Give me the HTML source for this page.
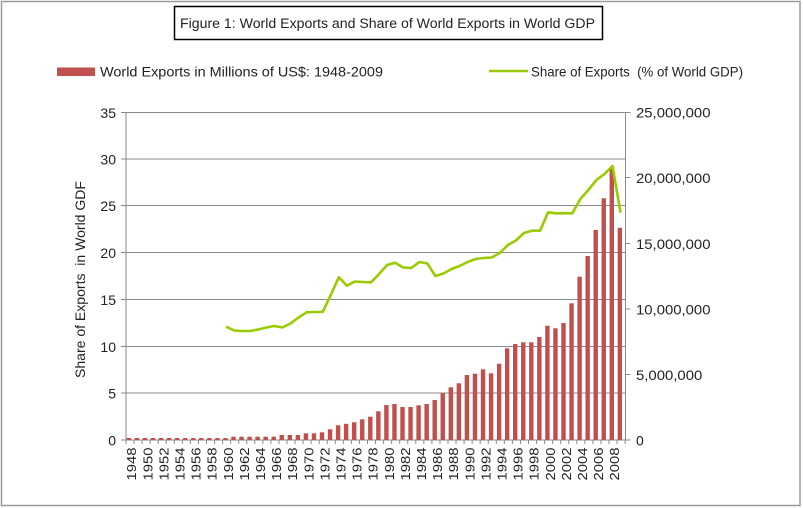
<!DOCTYPE html>
<html><head><meta charset="utf-8"><style>
html,body{margin:0;padding:0;background:#fff;}
svg{display:block;}
text{font-family:"Liberation Sans",Arial,sans-serif;fill:#222;}
</style></head><body>
<svg width="803" height="508" viewBox="0 0 803 508" xmlns="http://www.w3.org/2000/svg">
<rect x="0" y="0" width="803" height="508" fill="#fff"/>
<rect x="1.5" y="1.5" width="798.5" height="504" fill="none" stroke="#9a9a9a" stroke-width="1.5"/>
<!-- title -->
<rect x="174.5" y="6.5" width="428" height="33" fill="#fff" stroke="#000" stroke-width="1.5"/>
<text x="180" y="28" font-size="13.5" textLength="415" lengthAdjust="spacingAndGlyphs">Figure 1: World Exports and Share of World Exports in World GDP</text>
<!-- legend -->
<rect x="57" y="67.5" width="38" height="8.5" fill="#C0504D"/>
<text x="100" y="76.5" font-size="14" textLength="283" lengthAdjust="spacingAndGlyphs">World Exports in Millions of US$: 1948-2009</text>
<line x1="489" y1="71" x2="528" y2="71" stroke="#99CC00" stroke-width="2.5"/>
<text x="531" y="76.5" font-size="14" textLength="212" lengthAdjust="spacingAndGlyphs" xml:space="preserve">Share of Exports  (% of World GDP)</text>
<!-- gridlines -->
<g stroke="#8a8a8a" stroke-width="1">
<line x1="121" y1="112.5" x2="625.5" y2="112.5"/>
<line x1="121" y1="159" x2="625.5" y2="159"/>
<line x1="121" y1="205.5" x2="625.5" y2="205.5"/>
<line x1="121" y1="252.5" x2="625.5" y2="252.5"/>
<line x1="121" y1="299.5" x2="625.5" y2="299.5"/>
<line x1="121" y1="346.5" x2="625.5" y2="346.5"/>
<line x1="121" y1="393" x2="625.5" y2="393"/>
<line x1="121" y1="440" x2="625.5" y2="440"/>
<line x1="126" y1="112" x2="126" y2="440"/>
<line x1="625.5" y1="112" x2="625.5" y2="440"/>
<line x1="625.5" y1="112.5" x2="630.5" y2="112.5"/>
<line x1="625.5" y1="177.5" x2="630.5" y2="177.5"/>
<line x1="625.5" y1="243.5" x2="630.5" y2="243.5"/>
<line x1="625.5" y1="309" x2="630.5" y2="309"/>
<line x1="625.5" y1="374.5" x2="630.5" y2="374.5"/>
<line x1="625.5" y1="440" x2="630.5" y2="440"/>
</g>
<!-- x ticks -->
<g stroke="#8a8a8a" stroke-width="1">
<line x1="126" y1="440" x2="126" y2="444"/><line x1="134.05" y1="440" x2="134.05" y2="444"/><line x1="142.1" y1="440" x2="142.1" y2="444"/><line x1="150.15" y1="440" x2="150.15" y2="444"/><line x1="158.2" y1="440" x2="158.2" y2="444"/><line x1="166.25" y1="440" x2="166.25" y2="444"/><line x1="174.3" y1="440" x2="174.3" y2="444"/><line x1="182.35" y1="440" x2="182.35" y2="444"/><line x1="190.4" y1="440" x2="190.4" y2="444"/><line x1="198.45" y1="440" x2="198.45" y2="444"/><line x1="206.5" y1="440" x2="206.5" y2="444"/><line x1="214.55" y1="440" x2="214.55" y2="444"/><line x1="222.6" y1="440" x2="222.6" y2="444"/><line x1="230.65" y1="440" x2="230.65" y2="444"/><line x1="238.7" y1="440" x2="238.7" y2="444"/><line x1="246.75" y1="440" x2="246.75" y2="444"/><line x1="254.8" y1="440" x2="254.8" y2="444"/><line x1="262.85" y1="440" x2="262.85" y2="444"/><line x1="270.9" y1="440" x2="270.9" y2="444"/><line x1="278.95" y1="440" x2="278.95" y2="444"/><line x1="287" y1="440" x2="287" y2="444"/><line x1="295.05" y1="440" x2="295.05" y2="444"/><line x1="303.1" y1="440" x2="303.1" y2="444"/><line x1="311.15" y1="440" x2="311.15" y2="444"/><line x1="319.2" y1="440" x2="319.2" y2="444"/><line x1="327.25" y1="440" x2="327.25" y2="444"/><line x1="335.3" y1="440" x2="335.3" y2="444"/><line x1="343.35" y1="440" x2="343.35" y2="444"/><line x1="351.4" y1="440" x2="351.4" y2="444"/><line x1="359.45" y1="440" x2="359.45" y2="444"/><line x1="367.5" y1="440" x2="367.5" y2="444"/><line x1="375.55" y1="440" x2="375.55" y2="444"/><line x1="383.6" y1="440" x2="383.6" y2="444"/><line x1="391.65" y1="440" x2="391.65" y2="444"/><line x1="399.7" y1="440" x2="399.7" y2="444"/><line x1="407.75" y1="440" x2="407.75" y2="444"/><line x1="415.8" y1="440" x2="415.8" y2="444"/><line x1="423.85" y1="440" x2="423.85" y2="444"/><line x1="431.9" y1="440" x2="431.9" y2="444"/><line x1="439.95" y1="440" x2="439.95" y2="444"/><line x1="448" y1="440" x2="448" y2="444"/><line x1="456.05" y1="440" x2="456.05" y2="444"/><line x1="464.1" y1="440" x2="464.1" y2="444"/><line x1="472.15" y1="440" x2="472.15" y2="444"/><line x1="480.2" y1="440" x2="480.2" y2="444"/><line x1="488.25" y1="440" x2="488.25" y2="444"/><line x1="496.3" y1="440" x2="496.3" y2="444"/><line x1="504.35" y1="440" x2="504.35" y2="444"/><line x1="512.4" y1="440" x2="512.4" y2="444"/><line x1="520.45" y1="440" x2="520.45" y2="444"/><line x1="528.5" y1="440" x2="528.5" y2="444"/><line x1="536.55" y1="440" x2="536.55" y2="444"/><line x1="544.6" y1="440" x2="544.6" y2="444"/><line x1="552.65" y1="440" x2="552.65" y2="444"/><line x1="560.7" y1="440" x2="560.7" y2="444"/><line x1="568.75" y1="440" x2="568.75" y2="444"/><line x1="576.8" y1="440" x2="576.8" y2="444"/><line x1="584.85" y1="440" x2="584.85" y2="444"/><line x1="592.9" y1="440" x2="592.9" y2="444"/><line x1="600.95" y1="440" x2="600.95" y2="444"/><line x1="609" y1="440" x2="609" y2="444"/><line x1="617.05" y1="440" x2="617.05" y2="444"/><line x1="625.1" y1="440" x2="625.1" y2="444"/>
</g>
<!-- bars -->
<g fill="#C0504D">
<rect x="126.6" y="438" width="4.4" height="2"/>
<rect x="134.65" y="438" width="4.4" height="2"/>
<rect x="142.7" y="438" width="4.4" height="2"/>
<rect x="150.75" y="438" width="4.4" height="2"/>
<rect x="158.8" y="438" width="4.4" height="2"/>
<rect x="166.85" y="438" width="4.4" height="2"/>
<rect x="174.9" y="438" width="4.4" height="2"/>
<rect x="182.95" y="438" width="4.4" height="2"/>
<rect x="191" y="438" width="4.4" height="2"/>
<rect x="199.05" y="438" width="4.4" height="2"/>
<rect x="207.1" y="438" width="4.4" height="2"/>
<rect x="215.15" y="438" width="4.4" height="2"/>
<rect x="223.2" y="438" width="4.4" height="2"/>
<rect x="231.25" y="436.7" width="4.4" height="3.3"/>
<rect x="239.3" y="436.7" width="4.4" height="3.3"/>
<rect x="247.35" y="436.7" width="4.4" height="3.3"/>
<rect x="255.4" y="436.7" width="4.4" height="3.3"/>
<rect x="263.45" y="436.7" width="4.4" height="3.3"/>
<rect x="271.5" y="436.7" width="4.4" height="3.3"/>
<rect x="279.55" y="435" width="4.4" height="5"/>
<rect x="287.6" y="435" width="4.4" height="5"/>
<rect x="295.65" y="435" width="4.4" height="5"/>
<rect x="303.7" y="433.3" width="4.4" height="6.7"/>
<rect x="311.75" y="433.3" width="4.4" height="6.7"/>
<rect x="319.8" y="432.3" width="4.4" height="7.7"/>
<rect x="327.85" y="429.3" width="4.4" height="10.7"/>
<rect x="335.9" y="425.3" width="4.4" height="14.7"/>
<rect x="343.95" y="423.8" width="4.4" height="16.2"/>
<rect x="352" y="422.3" width="4.4" height="17.7"/>
<rect x="360.05" y="419.3" width="4.4" height="20.7"/>
<rect x="368.1" y="416.7" width="4.4" height="23.3"/>
<rect x="376.15" y="411.3" width="4.4" height="28.7"/>
<rect x="384.2" y="405" width="4.4" height="35"/>
<rect x="392.25" y="404" width="4.4" height="36"/>
<rect x="400.3" y="407" width="4.4" height="33"/>
<rect x="408.35" y="407" width="4.4" height="33"/>
<rect x="416.4" y="405.3" width="4.4" height="34.7"/>
<rect x="424.45" y="404" width="4.4" height="36"/>
<rect x="432.5" y="400" width="4.4" height="40"/>
<rect x="440.55" y="393.3" width="4.4" height="46.7"/>
<rect x="448.6" y="387.3" width="4.4" height="52.7"/>
<rect x="456.65" y="383.3" width="4.4" height="56.7"/>
<rect x="464.7" y="375" width="4.4" height="65"/>
<rect x="472.75" y="373.7" width="4.4" height="66.3"/>
<rect x="480.8" y="369.3" width="4.4" height="70.7"/>
<rect x="488.85" y="373.3" width="4.4" height="66.7"/>
<rect x="496.9" y="363.7" width="4.4" height="76.3"/>
<rect x="504.95" y="348.3" width="4.4" height="91.7"/>
<rect x="513" y="344" width="4.4" height="96"/>
<rect x="521.05" y="342.3" width="4.4" height="97.7"/>
<rect x="529.1" y="342.3" width="4.4" height="97.7"/>
<rect x="537.15" y="337" width="4.4" height="103"/>
<rect x="545.2" y="325.7" width="4.4" height="114.3"/>
<rect x="553.25" y="328.3" width="4.4" height="111.7"/>
<rect x="561.3" y="323" width="4.4" height="117"/>
<rect x="569.35" y="303.3" width="4.4" height="136.7"/>
<rect x="577.4" y="276.7" width="4.4" height="163.3"/>
<rect x="585.45" y="256" width="4.4" height="184"/>
<rect x="593.5" y="230" width="4.4" height="210"/>
<rect x="601.55" y="198.3" width="4.4" height="241.7"/>
<rect x="609.6" y="168.3" width="4.4" height="271.7"/>
<rect x="617.65" y="227.7" width="4.4" height="212.3"/>
</g>
<!-- line -->
<polyline fill="none" stroke="#99CC00" stroke-width="2.6" stroke-linejoin="round" points="226.1,326.7 234.15,330.5 242.2,331 250.25,331 258.3,329.5 266.35,327.5 274.4,326 282.45,327.5 290.5,323.5 298.55,317.5 306.6,312.3 314.65,312 322.7,312 330.75,295 338.8,277.3 346.85,285.7 354.9,281.5 362.95,282 371,282.3 379.05,274 387.1,265 395.15,262.7 403.2,267.5 411.25,268 419.3,262 427.35,263.5 435.4,276 443.45,273.5 451.5,269 459.55,266 467.6,262 475.65,259 483.7,258 491.75,257.5 499.8,253 507.85,245 515.9,240.5 523.95,233 532,230.7 540.05,230.7 548.1,212.3 556.15,213.3 564.2,213.3 572.25,213.3 580.3,199 588.35,190 596.4,180 604.45,174 612.5,166 620.55,212.7"/>
<!-- left axis labels -->
<g font-size="14" text-anchor="end">
<text x="116" y="118">35</text>
<text x="116" y="164.5">30</text>
<text x="116" y="211">25</text>
<text x="116" y="258">20</text>
<text x="116" y="305">15</text>
<text x="116" y="352">10</text>
<text x="116" y="398.5">5</text>
<text x="116" y="445.5">0</text>
</g>
<!-- right axis labels -->
<g font-size="14">
<text x="636" y="117.5" textLength="74.5" lengthAdjust="spacingAndGlyphs">25,000,000</text>
<text x="636" y="183" textLength="74.5" lengthAdjust="spacingAndGlyphs">20,000,000</text>
<text x="636" y="249" textLength="74.5" lengthAdjust="spacingAndGlyphs">15,000,000</text>
<text x="636" y="314.5" textLength="74.5" lengthAdjust="spacingAndGlyphs">10,000,000</text>
<text x="636" y="380" textLength="66.3" lengthAdjust="spacingAndGlyphs">5,000,000</text>
<text x="636" y="445.5">0</text>
</g>
<!-- y axis title -->
<text transform="translate(85,378) rotate(-90)" font-size="14" textLength="197" lengthAdjust="spacingAndGlyphs" xml:space="preserve">Share of Exports  in World GDF</text>
<!-- year labels -->
<g font-size="13" text-anchor="end">
<text transform="translate(136.15,447.5) rotate(-90)" textLength="33" lengthAdjust="spacingAndGlyphs">1948</text>
<text transform="translate(152.25,447.5) rotate(-90)" textLength="33" lengthAdjust="spacingAndGlyphs">1950</text>
<text transform="translate(168.35,447.5) rotate(-90)" textLength="33" lengthAdjust="spacingAndGlyphs">1952</text>
<text transform="translate(184.45,447.5) rotate(-90)" textLength="33" lengthAdjust="spacingAndGlyphs">1954</text>
<text transform="translate(200.55,447.5) rotate(-90)" textLength="33" lengthAdjust="spacingAndGlyphs">1956</text>
<text transform="translate(216.65,447.5) rotate(-90)" textLength="33" lengthAdjust="spacingAndGlyphs">1958</text>
<text transform="translate(232.75,447.5) rotate(-90)" textLength="33" lengthAdjust="spacingAndGlyphs">1960</text>
<text transform="translate(248.85,447.5) rotate(-90)" textLength="33" lengthAdjust="spacingAndGlyphs">1962</text>
<text transform="translate(264.95,447.5) rotate(-90)" textLength="33" lengthAdjust="spacingAndGlyphs">1964</text>
<text transform="translate(281.05,447.5) rotate(-90)" textLength="33" lengthAdjust="spacingAndGlyphs">1966</text>
<text transform="translate(297.15,447.5) rotate(-90)" textLength="33" lengthAdjust="spacingAndGlyphs">1968</text>
<text transform="translate(313.25,447.5) rotate(-90)" textLength="33" lengthAdjust="spacingAndGlyphs">1970</text>
<text transform="translate(329.35,447.5) rotate(-90)" textLength="33" lengthAdjust="spacingAndGlyphs">1972</text>
<text transform="translate(345.45,447.5) rotate(-90)" textLength="33" lengthAdjust="spacingAndGlyphs">1974</text>
<text transform="translate(361.55,447.5) rotate(-90)" textLength="33" lengthAdjust="spacingAndGlyphs">1976</text>
<text transform="translate(377.65,447.5) rotate(-90)" textLength="33" lengthAdjust="spacingAndGlyphs">1978</text>
<text transform="translate(393.75,447.5) rotate(-90)" textLength="33" lengthAdjust="spacingAndGlyphs">1980</text>
<text transform="translate(409.85,447.5) rotate(-90)" textLength="33" lengthAdjust="spacingAndGlyphs">1982</text>
<text transform="translate(425.95,447.5) rotate(-90)" textLength="33" lengthAdjust="spacingAndGlyphs">1984</text>
<text transform="translate(442.05,447.5) rotate(-90)" textLength="33" lengthAdjust="spacingAndGlyphs">1986</text>
<text transform="translate(458.15,447.5) rotate(-90)" textLength="33" lengthAdjust="spacingAndGlyphs">1988</text>
<text transform="translate(474.25,447.5) rotate(-90)" textLength="33" lengthAdjust="spacingAndGlyphs">1990</text>
<text transform="translate(490.35,447.5) rotate(-90)" textLength="33" lengthAdjust="spacingAndGlyphs">1992</text>
<text transform="translate(506.45,447.5) rotate(-90)" textLength="33" lengthAdjust="spacingAndGlyphs">1994</text>
<text transform="translate(522.55,447.5) rotate(-90)" textLength="33" lengthAdjust="spacingAndGlyphs">1996</text>
<text transform="translate(538.65,447.5) rotate(-90)" textLength="33" lengthAdjust="spacingAndGlyphs">1998</text>
<text transform="translate(554.75,447.5) rotate(-90)" textLength="33" lengthAdjust="spacingAndGlyphs">2000</text>
<text transform="translate(570.85,447.5) rotate(-90)" textLength="33" lengthAdjust="spacingAndGlyphs">2002</text>
<text transform="translate(586.95,447.5) rotate(-90)" textLength="33" lengthAdjust="spacingAndGlyphs">2004</text>
<text transform="translate(603.05,447.5) rotate(-90)" textLength="33" lengthAdjust="spacingAndGlyphs">2006</text>
<text transform="translate(619.15,447.5) rotate(-90)" textLength="33" lengthAdjust="spacingAndGlyphs">2008</text>
</g>
</svg>
</body></html>
